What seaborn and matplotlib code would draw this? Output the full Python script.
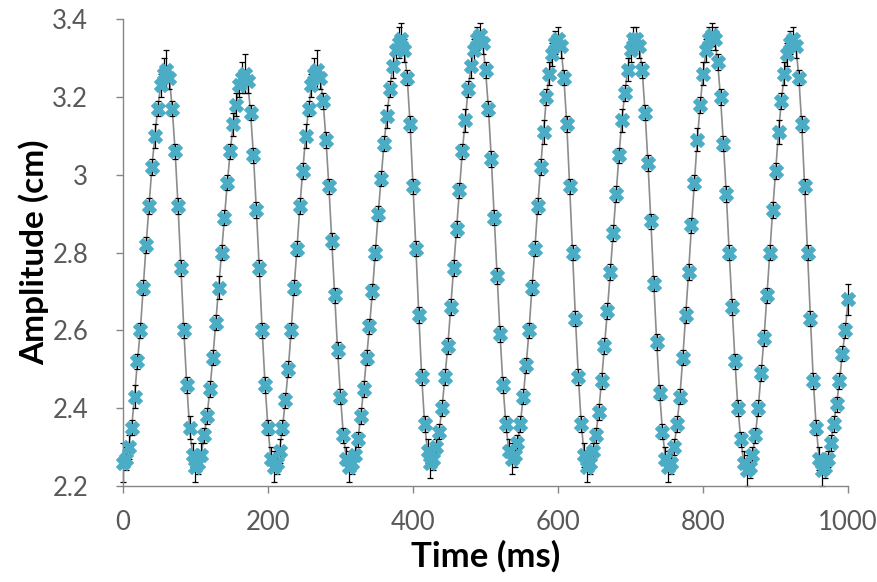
import numpy as np
import matplotlib
matplotlib.use('Agg')
import matplotlib.pyplot as plt
import seaborn as sns
from matplotlib.ticker import FuncFormatter

# amplitude readings (cm), one list per oscillation, sampled every 4 ms from t = 0
cycle_1 = [2.26, 2.27, 2.30, 2.35, 2.43, 2.52, 2.60, 2.71, 2.82, 2.92, 3.02, 3.10, 3.17, 3.23, 3.26, 3.27,
           3.25, 3.17, 3.06, 2.92, 2.76, 2.60, 2.46, 2.35, 2.28]
cycle_2 = [2.25, 2.26, 2.28, 2.33, 2.38, 2.45, 2.53, 2.62, 2.71, 2.80, 2.89, 2.98, 3.06, 3.13, 3.18, 3.23, 3.25, 3.26,
           3.24, 3.16, 3.05, 2.91, 2.76, 2.60, 2.46, 2.35, 2.27]
cycle_3 = [2.25, 2.26, 2.29, 2.35, 2.42, 2.50, 2.60, 2.71, 2.81, 2.92, 3.01, 3.10, 3.17, 3.23, 3.26, 3.27,
           3.25, 3.19, 3.09, 2.97, 2.83, 2.69, 2.55, 2.43, 2.33, 2.27]
cycle_4 = [2.25, 2.26, 2.28, 2.32, 2.38, 2.45, 2.53, 2.61, 2.70, 2.80, 2.90, 2.99, 3.08, 3.15, 3.22, 3.28, 3.32, 3.34, 3.35,
           3.32, 3.25, 3.13, 2.97, 2.81, 2.64, 2.48, 2.36, 2.29]
cycle_5 = [2.26, 2.27, 2.30, 2.34, 2.40, 2.48, 2.56, 2.66, 2.76, 2.86, 2.96, 3.06, 3.14, 3.22, 3.28, 3.32, 3.35, 3.36,
           3.34, 3.27, 3.17, 3.04, 2.89, 2.74, 2.59, 2.46, 2.36, 2.29]
cycle_6 = [2.27, 2.28, 2.31, 2.36, 2.43, 2.51, 2.60, 2.71, 2.81, 2.92, 3.02, 3.11, 3.20, 3.26, 3.31, 3.34, 3.35,
           3.33, 3.25, 3.13, 2.97, 2.80, 2.63, 2.48, 2.36, 2.28]
cycle_7 = [2.25, 2.26, 2.29, 2.33, 2.39, 2.47, 2.56, 2.65, 2.75, 2.85, 2.95, 3.05, 3.14, 3.21, 3.27, 3.32, 3.35, 3.35,
           3.33, 3.27, 3.16, 3.03, 2.88, 2.72, 2.57, 2.44, 2.34, 2.27]
cycle_8 = [2.25, 2.26, 2.30, 2.36, 2.43, 2.53, 2.64, 2.75, 2.87, 2.98, 3.09, 3.18, 3.26, 3.32, 3.35, 3.36,
           3.35, 3.29, 3.20, 3.08, 2.95, 2.80, 2.66, 2.52, 2.40, 2.32, 2.26]
cycle_9 = [2.24, 2.25, 2.28, 2.33, 2.40, 2.49, 2.58, 2.69, 2.80, 2.91, 3.01, 3.11, 3.19, 3.26, 3.31, 3.34, 3.35,
           3.33, 3.25, 3.13, 2.97, 2.80, 2.63, 2.47, 2.35, 2.27]
tail = [2.24, 2.25, 2.27, 2.31, 2.36, 2.41, 2.47, 2.54, 2.60, 2.68]

# error bar half-widths (cm), same layout
err_1 = [0.05, 0.03, 0.03, 0.02, 0.03, 0.02, 0.02, 0.02, 0.02, 0.02, 0.02, 0.03, 0.02, 0.03, 0.04, 0.05,
         0.03, 0.02, 0.02, 0.02, 0.02, 0.02, 0.02, 0.03, 0.03]
err_2 = [0.04, 0.03, 0.03, 0.02, 0.02, 0.02, 0.02, 0.02, 0.03, 0.02, 0.02, 0.02, 0.02, 0.03, 0.03, 0.03, 0.04, 0.05,
         0.03, 0.02, 0.02, 0.02, 0.02, 0.02, 0.02, 0.02, 0.03]
err_3 = [0.04, 0.03, 0.03, 0.02, 0.02, 0.02, 0.02, 0.02, 0.02, 0.02, 0.02, 0.03, 0.02, 0.03, 0.04, 0.05,
         0.03, 0.02, 0.02, 0.02, 0.02, 0.02, 0.02, 0.02, 0.02, 0.03]
err_4 = [0.04, 0.03, 0.03, 0.02, 0.02, 0.02, 0.02, 0.02, 0.02, 0.02, 0.02, 0.02, 0.02, 0.03, 0.02, 0.03, 0.03, 0.04, 0.04,
         0.03, 0.02, 0.02, 0.02, 0.02, 0.02, 0.02, 0.02, 0.03]
err_5 = [0.04, 0.03, 0.02, 0.02, 0.02, 0.02, 0.02, 0.02, 0.02, 0.02, 0.02, 0.02, 0.03, 0.02, 0.03, 0.03, 0.03, 0.03,
         0.03, 0.02, 0.02, 0.02, 0.02, 0.02, 0.02, 0.02, 0.02, 0.03]
err_6 = [0.04, 0.03, 0.02, 0.02, 0.02, 0.02, 0.02, 0.02, 0.02, 0.02, 0.02, 0.03, 0.02, 0.03, 0.03, 0.03, 0.03,
         0.03, 0.02, 0.02, 0.02, 0.02, 0.02, 0.02, 0.02, 0.03]
err_7 = [0.04, 0.03, 0.02, 0.02, 0.02, 0.02, 0.02, 0.02, 0.02, 0.02, 0.02, 0.02, 0.03, 0.02, 0.03, 0.03, 0.03, 0.03,
         0.03, 0.02, 0.02, 0.02, 0.02, 0.02, 0.02, 0.02, 0.02, 0.03]
err_8 = [0.04, 0.03, 0.02, 0.02, 0.02, 0.02, 0.02, 0.02, 0.02, 0.02, 0.03, 0.02, 0.03, 0.03, 0.03, 0.03,
         0.03, 0.02, 0.02, 0.02, 0.02, 0.02, 0.02, 0.02, 0.02, 0.02, 0.03]
err_9 = [0.04, 0.03, 0.02, 0.02, 0.02, 0.02, 0.02, 0.02, 0.02, 0.02, 0.02, 0.03, 0.02, 0.03, 0.03, 0.03, 0.03,
         0.03, 0.02, 0.02, 0.02, 0.02, 0.02, 0.02, 0.02, 0.03]
err_tail = [0.04, 0.03, 0.02, 0.02, 0.02, 0.02, 0.02, 0.02, 0.02, 0.04]

x_ticks = [0, 200, 400, 600, 800, 1000]
y_ticks = [2.2, 2.4, 2.6, 2.8, 3.0, 3.2, 3.4]

amp = np.array(cycle_1 + cycle_2 + cycle_3 + cycle_4 + cycle_5 + cycle_6 + cycle_7 + cycle_8 + cycle_9 + tail)
err = np.array(err_1 + err_2 + err_3 + err_4 + err_5 + err_6 + err_7 + err_8 + err_9 + err_tail)
time_ms = np.arange(len(amp)) * 4

sns.set_style('ticks')
plt.rcParams['font.family'] = ['Lato', 'DejaVu Sans']

fig, ax = plt.subplots(figsize=(8.78, 5.82), dpi=100)
fig.subplots_adjust(left=0.140, right=0.966, bottom=0.165, top=0.967)

sns.lineplot(x=time_ms, y=amp, color='#8c8c8c', linewidth=1.2, ax=ax, zorder=1)
ax.errorbar(time_ms, amp, yerr=err, fmt='none', ecolor='black', elinewidth=0.9,
            capsize=2.5, capthick=0.9, zorder=2, clip_on=False)
sns.scatterplot(x=time_ms, y=amp, marker='X', s=100, color='#4bacc6', edgecolor='#4bacc6',
                linewidth=0.8, ax=ax, zorder=3, clip_on=False)

ax.set_xlim(0, 1000)
ax.set_ylim(2.2, 3.4)
ax.set_xticks(x_ticks)
ax.set_yticks(y_ticks)
ax.yaxis.set_major_formatter(FuncFormatter(lambda v, p: f'{v:g}'))

sns.despine(ax=ax)
for side in ['left', 'bottom']:
    ax.spines[side].set_color('#868686')
    ax.spines[side].set_linewidth(1.0)
ax.tick_params(axis='both', direction='out', length=5, width=1, color='#868686',
               labelcolor='#595959', labelsize=18.5)
ax.tick_params(axis='x', pad=12)
ax.tick_params(axis='y', pad=20)

ax.set_xlabel('Time (ms)', fontsize=25, fontweight='bold', color='black', labelpad=4)
ax.set_ylabel('Amplitude (cm)', fontsize=24, fontweight='bold', color='black', labelpad=2)

fig.savefig('out.png', dpi=100)
